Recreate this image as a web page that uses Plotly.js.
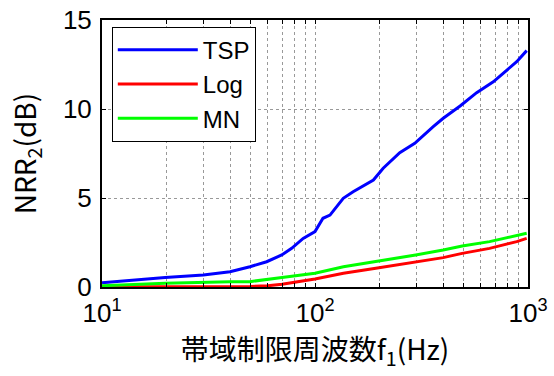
<!DOCTYPE html>
<html>
<head>
<meta charset="utf-8">
<script src="https://cdn.plot.ly/plotly-3.0.1.min.js"></script>
<style>html,body{margin:0;padding:0;background:#fff;}</style>
</head>
<body>
<div id="chart" style="width:554px;height:376px;"></div>
<script>
// Frequencies (Hz) and NRR2 values (dB)
const tspFreq = [10, 19.8, 29.9, 39.9, 49.5, 59.3, 69.8, 77.7, 88, 100, 109, 117.6, 135.7, 151, 188, 209, 250, 294, 359, 400, 480, 574, 687, 795, 885, 986];
const tspVal  = [0.24, 0.54, 0.67, 0.86, 1.14, 1.42, 1.80, 2.17, 2.73, 3.11, 3.86, 4.04, 4.98, 5.35, 6.01, 6.67, 7.55, 8.07, 9.01, 9.48, 10.17, 10.92, 11.53, 12.19, 12.66, 13.28];

const logFreq = [10, 30, 49.5, 60, 70, 100, 136, 193, 297, 400, 491, 660, 885, 986];
const logVal  = [0.02, 0.02, 0.03, 0.07, 0.15, 0.45, 0.77, 1.05, 1.39, 1.65, 1.89, 2.17, 2.55, 2.73];

const mnFreq = [10, 19.8, 40, 49.5, 70, 100, 136, 193, 297, 400, 491, 660, 885, 986];
const mnVal  = [0.07, 0.21, 0.30, 0.30, 0.54, 0.77, 1.14, 1.42, 1.80, 2.08, 2.30, 2.55, 2.88, 3.02];

const seriesNames = ['TSP', 'Log', 'MN'];
const seriesColors = ['#0000ff', '#ff0000', '#00ff00'];

const xTickVals = [10,20,30,40,50,60,70,80,90,100,200,300,400,500,600,700,800,900,1000];
const xTickText = xTickVals.map(v => v === 10 ? '10<sup>1</sup>' : v === 100 ? '10<sup>2</sup>' : v === 1000 ? '10<sup>3</sup>' : '');
const yTickVals = [0, 5, 10, 15];

const xs = [tspFreq, logFreq, mnFreq];
const ys = [tspVal, logVal, mnVal];

const traces = seriesNames.map((n, i) => ({
  x: xs[i], y: ys[i], name: n, type: 'scatter', mode: 'lines',
  line: {color: seriesColors[i], width: 3}
}));

const tickFont = {family: 'Liberation Sans, Arial, sans-serif', size: 26, color: '#000'};
const titleFont = {family: 'Noto Sans CJK JP, Liberation Sans, sans-serif', size: 28, color: '#000'};

const layout = {
  width: 554, height: 376,
  margin: {l: 102, r: 26, t: 20, b: 89},
  paper_bgcolor: '#fff', plot_bgcolor: '#fff',
  showlegend: true,
  legend: {
    x: 0.023, y: 0.975, xanchor: 'left', yanchor: 'top',
    bgcolor: '#fff', bordercolor: '#000', borderwidth: 1,
    font: {family: 'Liberation Sans, Arial, sans-serif', size: 24, color: '#000'},
    itemwidth: 80, tracegroupgap: 0
  },
  xaxis: {
    type: 'log', range: [1, 3],
    tickmode: 'array', tickvals: xTickVals, ticktext: xTickText,
    ticks: 'inside', ticklen: 4, tickcolor: '#000', mirror: 'allticks',
    showline: true, linecolor: '#000', linewidth: 2,
    showgrid: true, gridcolor: '#999', griddash: 'dot', gridwidth: 1,
    zeroline: false, tickfont: tickFont, ticklabelstandoff: 2,
    title: {text: '帯域制限周波数f<sub>1</sub>(Hz)', font: titleFont, standoff: 3}
  },
  yaxis: {
    range: [0, 15], tickmode: 'array', tickvals: yTickVals,
    ticks: 'inside', ticklen: 4, tickcolor: '#000', mirror: 'allticks',
    showline: true, linecolor: '#000', linewidth: 2,
    showgrid: true, gridcolor: '#999', griddash: 'dot', gridwidth: 1,
    zeroline: false, tickfont: tickFont, ticklabelstandoff: 3,
    title: {text: 'NRR<sub>2</sub>(dB)', font: titleFont, standoff: 18}
  }
};

Plotly.newPlot('chart', traces, layout, {displayModeBar: false, staticPlot: true});
</script>
</body>
</html>
